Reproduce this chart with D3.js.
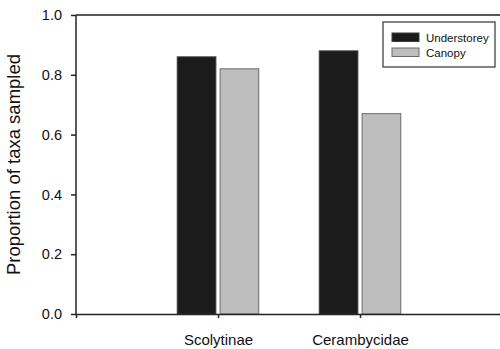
<!DOCTYPE html>
<html>
<head>
<meta charset="utf-8">
<script src="https://cdn.jsdelivr.net/npm/d3@7"></script>
<style>
  body { margin: 0; background: #fff; }
  text { font-family: "Liberation Sans", Arial, sans-serif; fill: #111; }
</style>
</head>
<body>
<svg id="chart" width="500" height="349"></svg>
<script>
// data
var categories = ["Scolytinae", "Cerambycidae"]
var understorey = [0.86, 0.88]
var canopy = [0.82, 0.67]
var seriesNames = ["Understorey", "Canopy"]
var yTicks = [0.0, 0.2, 0.4, 0.6, 0.8, 1.0]

var svg = d3.select("#chart")
var plotLeft = 76, plotRight = 502, plotTop = 15, plotBottom = 314

var x = d3.scaleLinear().domain([0, categories.length + 1]).range([plotLeft, plotRight])
var y = d3.scaleLinear().domain([0, 1]).range([plotBottom, plotTop])

var fills = ["#1b1b1b", "#bebebe"]
var strokes = ["#3a3a3a", "#6a6a6a"]
var barW = 0.272, gap = 0.03

// bars
var series = [understorey, canopy]
series.forEach(function(vals, s) {
    svg.append("g").selectAll("rect")
        .data(vals)
        .enter().append("rect")
        .attr("x", function(d, i) {
            var c = x(i + 1)
            return s == 0 ? c - (x(gap / 2) - x(0)) - (x(barW) - x(0))
                          : c + (x(gap / 2) - x(0))
        })
        .attr("y", function(d) { return y(d) })
        .attr("width", x(barW) - x(0))
        .attr("height", function(d) { return y(0) - y(d) })
        .attr("fill", fills[s])
        .attr("stroke", strokes[s])
        .attr("stroke-width", 1)
})

// frame: left and top
var frame = svg.append("g").attr("stroke", "#222").attr("stroke-width", 1.5).attr("fill", "none")
frame.append("line").attr("x1", plotLeft).attr("x2", plotLeft).attr("y1", plotTop).attr("y2", plotBottom)
frame.append("line").attr("x1", plotLeft).attr("x2", plotRight).attr("y1", plotTop).attr("y2", plotTop)

// y axis
var yAxis = svg.append("g")
    .attr("transform", "translate(" + plotLeft + ",0)")
    .call(d3.axisLeft(y).tickValues(yTicks).tickFormat(d3.format(".1f")).tickSize(5).tickPadding(9))
yAxis.select(".domain").remove()
yAxis.selectAll("line").attr("stroke", "#222").attr("stroke-width", 1.5)
yAxis.selectAll("text").style("font-size", "14.5px").style("font-family", "Liberation Sans, Arial, sans-serif").attr("fill", "#111")

// x axis
var xAxis = svg.append("g")
    .attr("transform", "translate(0," + plotBottom + ")")
    .call(d3.axisBottom(x).tickValues([1, 2]).tickFormat(function(d) { return categories[d - 1] }).tickSize(4).tickPadding(16))
xAxis.select(".domain").attr("stroke", "#222").attr("stroke-width", 1.5)
xAxis.selectAll("line").attr("stroke", "#222").attr("stroke-width", 1.5)
xAxis.selectAll("text").style("font-size", "15px").style("font-family", "Liberation Sans, Arial, sans-serif").attr("fill", "#111")

// y title
svg.append("text")
    .attr("transform", "translate(20," + ((plotTop + plotBottom) / 2) + ") rotate(-90)")
    .attr("text-anchor", "middle")
    .style("font-size", "18.5px")
    .text("Proportion of taxa sampled")

// legend
var lg = svg.append("g").attr("transform", "translate(383,22)")
lg.append("rect").attr("width", 112).attr("height", 45)
    .attr("fill", "#fff").attr("stroke", "#333").attr("stroke-width", 1.2)
seriesNames.forEach(function(name, i) {
    lg.append("rect").attr("x", 9).attr("y", 11 + i * 15).attr("width", 27).attr("height", 8.5)
        .attr("fill", fills[i]).attr("stroke", strokes[i])
    lg.append("text").attr("x", 43).attr("y", 19.5 + i * 15)
        .style("font-size", "11.5px").text(name)
})
</script>
</body>
</html>
